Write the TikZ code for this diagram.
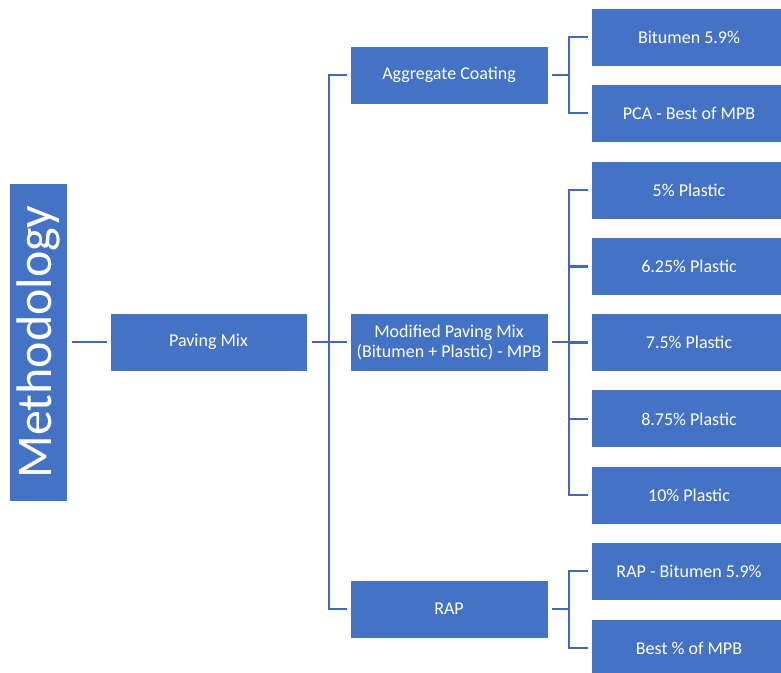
\documentclass[tikz,border=0pt]{standalone}
\usepackage{fontspec}
\setmainfont{Carlito}
\usetikzlibrary{arrows.meta}
\definecolor{boxblue}{HTML}{4472C4}
\definecolor{linkblue}{HTML}{416AB9}
\tikzset{every node/.style={font=\fontsize{18}{20}\selectfont},
  item/.style={fill=boxblue,draw=white,line width=1pt,text=white,
    minimum width=198pt,minimum height=58pt,inner sep=2pt,align=center},
  leaf/.style={item,minimum width=196pt},
  link/.style={draw=linkblue,line width=2.5pt,shorten >=3pt}}

\begin{document}
\begin{tikzpicture}[x=1pt,y=-1pt]
\clip (0,0) rectangle (781,672);
\node[item,rotate=90,minimum width=318pt,minimum height=58pt,
  font=\fontsize{50}{50}\selectfont] (meth) at (38,342) {Methodology};
\node[item,minimum width=197pt] (pave) at (208.5,342) {Paving Mix};
\node[item] (coat) at (449,75) {Aggregate Coating};
\node[item] (mpb) at (449,342) {Modified Paving Mix\\(Bitumen + Plastic) - MPB};
\node[item] (rap) at (449,609) {RAP};
\node[leaf] (bit) at (689,37) {Bitumen 5.9\%};
\node[leaf] (pca) at (689,113) {PCA - Best of MPB};
\foreach \p [count=\i] in {5,6.25,7.5,8.75,10}
  \node[leaf] (pl\i) at (689,{113.7+\i*76.3}) {\p\% Plastic};
\node[leaf] (rapbit) at (689,571) {RAP - Bitumen 5.9\%};
\node[leaf] (rapbest) at (689,648) {Best \% of MPB};
\coordinate (trunk) at (329,342);
\coordinate (cfork) at (569,75);
\coordinate (mfork) at (569,342);
\coordinate (rfork) at (569,609);
\draw[link,shorten <=4pt] (meth.south) -- (pave.west);
\draw[link,shorten >=0pt,shorten <=4pt] (pave.east) -- (trunk);
\foreach \n in {coat,mpb,rap} \draw[link] (trunk) |- (\n.west);
\draw[link,shorten >=0pt,shorten <=3pt] (coat.east) -- (cfork);
\draw[link,shorten >=0pt,shorten <=3pt] (mpb.east) -- (mfork);
\draw[link,shorten >=0pt,shorten <=3pt] (rap.east) -- (rfork);
\foreach \n in {bit,pca} \draw[link] (cfork) |- (\n.west);
\foreach \i in {1,...,5} \draw[link] (mfork) |- (pl\i.west);
\foreach \n in {rapbit,rapbest} \draw[link] (rfork) |- (\n.west);
\end{tikzpicture}
\end{document}
